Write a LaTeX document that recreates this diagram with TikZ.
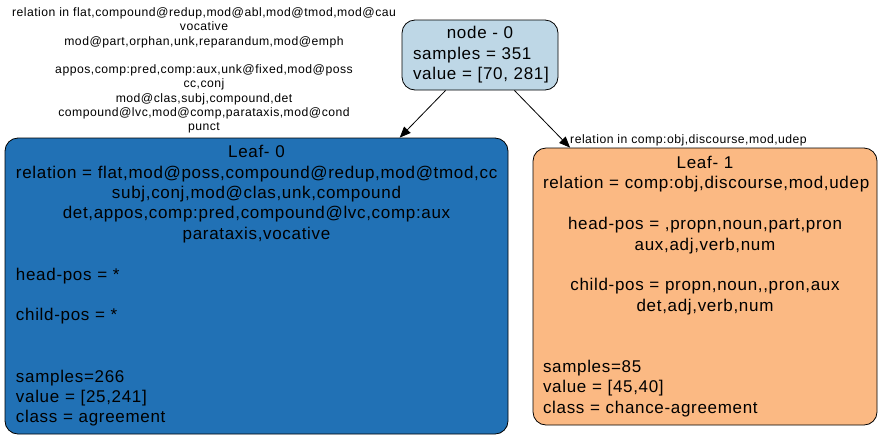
\documentclass[tikz,border=0pt]{standalone}
\usepackage{fontspec}
\setmainfont{Liberation Sans}[LetterSpace=4]
\usepackage{xcolor}
\usetikzlibrary{arrows.meta}
\definecolor{rootblue}{HTML}{BED7E6}
\definecolor{leafblue}{HTML}{2171B5}
\definecolor{leaforange}{HTML}{FBB983}
\newcommand{\ctr}[1]{\makebox[\hsize]{#1}}
\newcommand{\lft}[1]{\makebox[\hsize][l]{#1}}
\begin{document}
\begin{tikzpicture}[x=1pt,y=-1pt,
dt/.style={draw,rectangle,rounded corners=13pt,line width=0.8pt,inner sep=0pt,align=left,
font=\fontsize{17}{20.4}\selectfont,text=black},
el/.style={inner sep=0pt,align=center,font=\fontsize{12.2}{14.3}\selectfont},
ed/.style={line width=0.8pt,-{Triangle[length=11pt,width=9pt]}}]
\useasboundingbox (0,0) rectangle (882,440);
\node[dt,fill=rootblue,minimum width=156pt,minimum height=70pt,text width=134pt] (root) at (480,55)
  {\ctr{node - 0}\\\lft{samples = 351}\\\lft{value = [70, 281]}};
\node[dt,fill=leafblue,minimum width=503pt,minimum height=296pt,text width=481pt] (leaf0) at (256.5,286)
  {\ctr{Leaf- 0}\\
   \lft{relation = flat,mod@poss,compound@redup,mod@tmod,cc}\\
   \ctr{subj,conj,mod@clas,unk,compound}\\
   \ctr{det,appos,comp:pred,compound@lvc,comp:aux}\\
   \ctr{parataxis,vocative}\\[20.4pt]
   \lft{head-pos = *}\\[20.4pt]
   \lft{child-pos = *}\\[40.8pt]
   \lft{samples=266}\\
   \lft{value = [25,241]}\\
   \lft{class = agreement}};
\node[dt,fill=leaforange,minimum width=344pt,minimum height=277pt,text width=324pt] (leaf1) at (705,286.5)
  {\ctr{Leaf- 1}\\
   \lft{relation = comp:obj,discourse,mod,udep}\\[20.4pt]
   \ctr{head-pos = ,propn,noun,part,pron}\\
   \ctr{aux,adj,verb,num}\\[20.4pt]
   \ctr{child-pos = propn,noun,{},pron,aux}\\
   \ctr{det,adj,verb,num}\\[40.8pt]
   \lft{samples=85}\\
   \lft{value = [45,40]}\\
   \lft{class = chance-agreement}};
% edges
\draw[ed] (root) -- (leaf0);
\draw[ed] (root) -- (leaf1);
\node[el] (lbl0) at (204,70.5)
  {relation in flat,compound@redup,mod@abl,mod@tmod,mod@cau\\
   vocative\\
   mod@part,orphan,unk,reparandum,mod@emph\\[14.3pt]
   appos,comp:pred,comp:aux,unk@fixed,mod@poss\\
   cc,conj\\
   mod@clas,subj,compound,det\\
   compound@lvc,mod@comp,parataxis,mod@cond\\
   punct};
\node[el,anchor=west] (lbl1) at (570,140) {relation in comp:obj,discourse,mod,udep};
\end{tikzpicture}
\end{document}
